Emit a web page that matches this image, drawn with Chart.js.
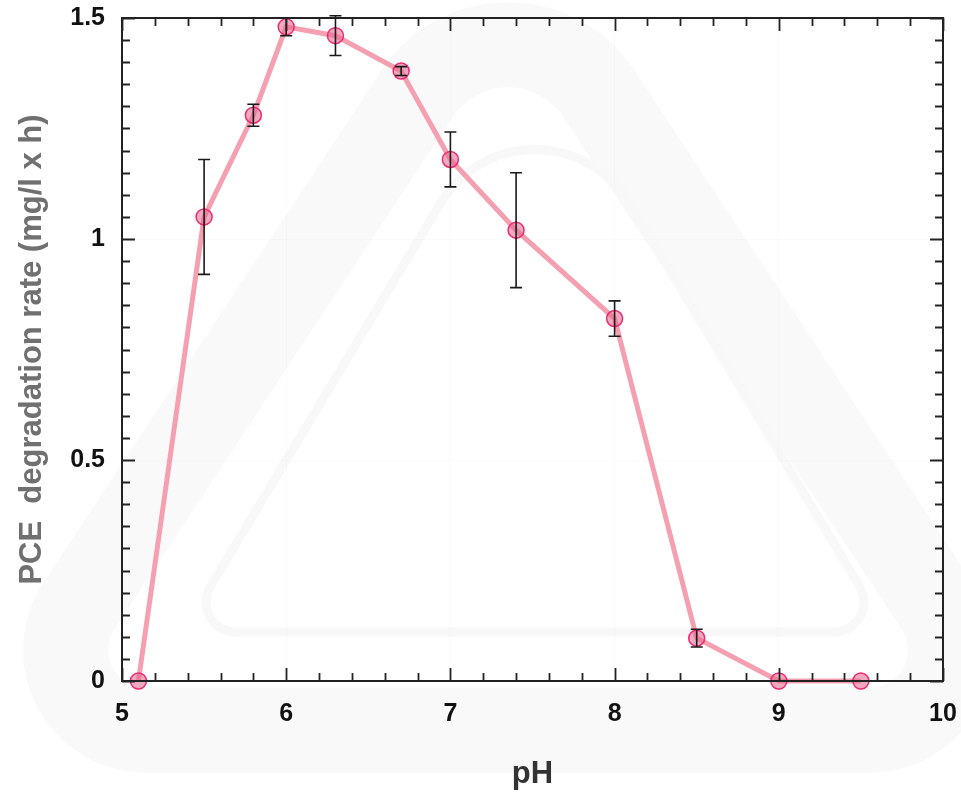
<!DOCTYPE html>
<html>
<head>
<meta charset="utf-8">
<script src="https://cdn.jsdelivr.net/npm/chart.js@4/dist/chart.umd.min.js"></script>
<style>
  body { margin: 0; background: #fff; }
  #wrap { width: 961px; height: 794px; }
</style>
</head>
<body>
<div id="wrap"><canvas id="myChart" width="961" height="794"></canvas></div>
<script>
// PCE degradation rate measured at each pH, with standard deviation
const phValues   = [5.1, 5.5, 5.8, 6.0, 6.3, 6.7, 7.0, 7.4, 8.0, 8.5, 9.0, 9.5];
const rates      = [0, 1.05, 1.28, 1.48, 1.46, 1.38, 1.18, 1.02, 0.82, 0.097, 0, 0];
const rateErrors = [0, 0.13, 0.025, 0.02, 0.045, 0.01, 0.062, 0.13, 0.04, 0.02, 0, 0];

const xTicks = [5, 6, 7, 8, 9, 10];
const yTicks = [0, 0.5, 1, 1.5];
const xMinorStep = 0.2;
const yMinorStep = 0.05;

const FONT = '"Liberation Sans", Arial, sans-serif';

// path of a triangle with rounded corners
function roundedTriangle(ctx, pts, radii) {
  ctx.beginPath();
  const n = pts.length;
  ctx.moveTo((pts[0][0] + pts[1][0]) / 2, (pts[0][1] + pts[1][1]) / 2);
  for (let i = 1; i <= n; i++) {
    const p = pts[i % n], q = pts[(i + 1) % n];
    ctx.arcTo(p[0], p[1], q[0], q[1], radii[i % n]);
  }
  ctx.closePath();
}

// faint triangle logo behind the plot
const backdrop = {
  id: 'backdrop',
  beforeDraw(chart) {
    const ctx = chart.ctx;
    ctx.save();
    ctx.fillStyle = '#fff';
    ctx.fillRect(0, 0, chart.width, chart.height);
    ctx.lineJoin = 'round';
    roundedTriangle(ctx, [[508, -44], [1019, 730], [-3, 730]], [109, 80, 80]);
    ctx.strokeStyle = '#f9f9f9';
    ctx.lineWidth = 85;
    ctx.stroke();
    roundedTriangle(ctx, [[535, 46], [887, 632], [183, 632]], [110, 30, 30]);
    ctx.strokeStyle = '#f8f8f8';
    ctx.lineWidth = 9;
    ctx.stroke();
    ctx.restore();
  }
};

// frame with inward ticks on all four sides
const frameTicks = {
  id: 'frameTicks',
  afterDraw(chart) {
    const { ctx, chartArea: a, scales: { x, y } } = chart;
    ctx.save();
    ctx.strokeStyle = '#222';
    ctx.lineWidth = 1.8;
    ctx.beginPath();
    const nx = Math.round((xTicks[xTicks.length - 1] - xTicks[0]) / xMinorStep);
    for (let i = 0; i <= nx; i++) {
      const px = Math.round(x.getPixelForValue(xTicks[0] + i * xMinorStep)) + 0.5;
      const len = i % 5 === 0 ? 13 : 8;
      ctx.moveTo(px, a.bottom); ctx.lineTo(px, a.bottom - len);
      ctx.moveTo(px, a.top); ctx.lineTo(px, a.top + len);
    }
    const ny = Math.round((yTicks[yTicks.length - 1] - yTicks[0]) / yMinorStep);
    for (let i = 0; i <= ny; i++) {
      const py = Math.round(y.getPixelForValue(yTicks[0] + i * yMinorStep)) + 0.5;
      const len = i % 10 === 0 ? 13 : 8;
      ctx.moveTo(a.left, py); ctx.lineTo(a.left + len, py);
      ctx.moveTo(a.right, py); ctx.lineTo(a.right - len, py);
    }
    ctx.stroke();
    ctx.lineWidth = 2;
    ctx.strokeRect(a.left, a.top, a.right - a.left, a.bottom - a.top);
    ctx.restore();
  }
};

// vertical error bars with caps
const errorBars = {
  id: 'errorBars',
  afterDatasetsDraw(chart) {
    const { ctx, scales: { x, y } } = chart;
    ctx.save();
    ctx.strokeStyle = '#1a1a1a';
    ctx.lineWidth = 1.6;
    ctx.beginPath();
    phValues.forEach((ph, i) => {
      const e = rateErrors[i];
      if (!e) return;
      const px = x.getPixelForValue(ph);
      const top = y.getPixelForValue(rates[i] + e);
      const bot = y.getPixelForValue(rates[i] - e);
      ctx.moveTo(px, top); ctx.lineTo(px, bot);
      ctx.moveTo(px - 6, top); ctx.lineTo(px + 6, top);
      ctx.moveTo(px - 6, bot); ctx.lineTo(px + 6, bot);
    });
    ctx.stroke();
    ctx.restore();
  }
};

const ctx = document.getElementById('myChart');

new Chart(ctx, {
  type: 'line',
  data: {
    datasets: [{
      label: 'PCE degradation rate',
      data: phValues.map((ph, i) => ({ x: ph, y: rates[i] })),
      borderColor: '#f4a0b0',
      borderWidth: 5,
      pointRadius: 8,
      pointHoverRadius: 8,
      pointBackgroundColor: 'rgba(228,100,140,0.55)',
      pointBorderColor: '#ee2a72',
      pointBorderWidth: 1.5,
      tension: 0,
      clip: false
    }]
  },
  options: {
    responsive: false,
    animation: false,
    events: [],
    layout: { padding: { top: 18, right: 18, left: 0, bottom: 0 } },
    plugins: { legend: { display: false }, tooltip: { enabled: false } },
    scales: {
      x: {
        type: 'linear',
        min: xTicks[0],
        max: xTicks[xTicks.length - 1],
        afterBuildTicks: s => { s.ticks = xTicks.map(v => ({ value: v })); },
        afterFit: s => { s.height = 113; s.paddingLeft = 0; s.paddingRight = 0; },
        border: { display: false },
        grid: { color: 'rgba(0,0,0,0.015)', drawTicks: false },
        ticks: {
          color: '#111',
          font: { family: FONT, size: 25, weight: 'bold' },
          padding: 18,
          maxRotation: 0,
          callback: v => String(v)
        },
        title: {
          display: true,
          text: 'pH',
          color: '#333',
          font: { family: FONT, size: 31, weight: 'bold', lineHeight: 1 },
          padding: { top: 0, bottom: 4 }
        }
      },
      y: {
        min: yTicks[0],
        max: yTicks[yTicks.length - 1],
        afterBuildTicks: s => { s.ticks = yTicks.map(v => ({ value: v })); },
        afterFit: s => { s.width = 122; s.paddingTop = 0; s.paddingBottom = 0; },
        border: { display: false },
        grid: { color: 'rgba(0,0,0,0.015)', drawTicks: false },
        ticks: {
          color: '#111',
          font: { family: FONT, size: 25, weight: 'bold' },
          padding: 17,
          callback: v => String(v)
        },
        title: {
          display: true,
          text: 'PCE  degradation rate (mg/l x h)',
          color: '#707070',
          font: { family: FONT, size: 31, weight: 'bold', lineHeight: 1 },
          padding: { top: 17, bottom: 0 }
        }
      }
    }
  },
  plugins: [backdrop, frameTicks, errorBars]
});
</script>
</body>
</html>
